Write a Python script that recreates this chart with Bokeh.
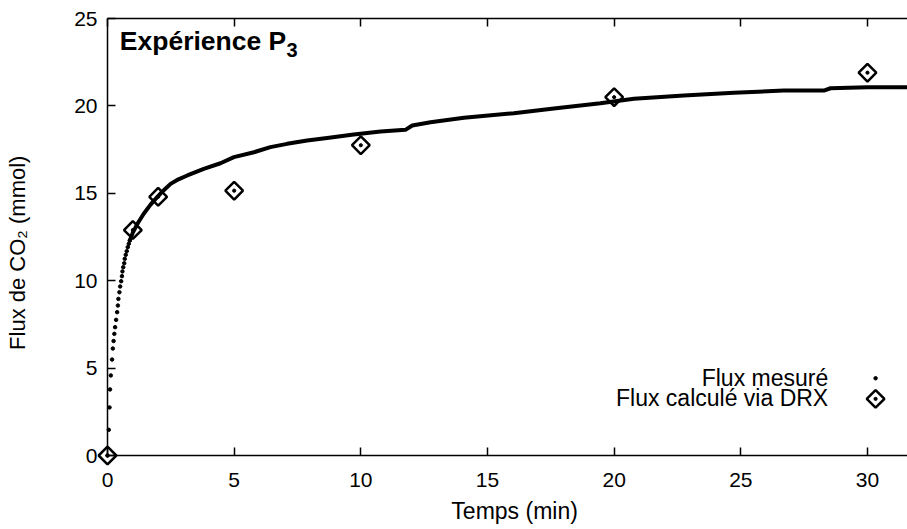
import math
from bokeh.plotting import figure
from bokeh.models import LinearAxis, Label, FixedTicker, Range1d
from bokeh.embed import file_html
from bokeh.resources import INLINE

# ---- data ----
# early measured points (individually visible dots)
early_t = [0.0, 0.05, 0.08, 0.10, 0.13, 0.18, 0.21, 0.24, 0.27, 0.30, 0.34, 0.38,
           0.41, 0.43, 0.47, 0.50, 0.54, 0.57, 0.59, 0.62, 0.66, 0.68, 0.72, 0.76,
           0.80, 0.84, 0.88]
early_flux = [0.0, 1.47, 2.75, 3.78, 4.58, 5.49, 6.12, 6.55, 6.96, 7.34, 7.76, 8.20,
              8.58, 8.96, 9.34, 9.67, 9.97, 10.26, 10.53, 10.77, 11.00, 11.25, 11.48, 11.69,
              11.92, 12.11, 12.30]
# dense measured points (appear as a continuous thick curve)
curve_t = [0.88, 1.0, 1.2, 1.43, 1.7, 1.96, 2.2, 2.49, 2.8, 3.15, 3.8, 4.46, 4.99,
           5.78, 6.43, 7.09, 7.88, 8.67, 9.72, 10.78, 11.76, 12.03, 12.75, 14.07,
           16.04, 17.62, 19.46, 20.78, 22.75, 24.73, 26.70, 28.28, 28.54, 29.99, 31.57]
curve_flux = [12.30, 12.75, 13.3, 13.83, 14.35, 14.78, 15.15, 15.54, 15.8, 16.02, 16.40,
              16.72, 17.07, 17.35, 17.64, 17.83, 18.02, 18.17, 18.36, 18.53, 18.63, 18.88,
              19.07, 19.32, 19.58, 19.85, 20.15, 20.41, 20.59, 20.75, 20.88, 20.88, 21.01,
              21.07, 21.07]
# flux computed from XRD
drx_t = [0, 1, 2, 5, 10, 20, 30]
drx_flux = [0.0, 12.9, 14.8, 15.15, 17.75, 20.5, 21.9]

x_ticks = [0, 5, 10, 15, 20, 25, 30]
y_ticks = [0, 5, 10, 15, 20, 25]
X_MIN, X_MAX = 0, 31.58
Y_MIN, Y_MAX = 0, 25

FONT = "Liberation Sans"
BLACK = "#000000"

# the frame covers the whole canvas; axes are pinned at the data edges
p = figure(width=907, height=529, x_range=Range1d(-4.224, 31.58), y_range=Range1d(-4.233, 26.03),
           output_backend="svg", toolbar_location=None,
           min_border_left=0, min_border_right=0, min_border_top=0, min_border_bottom=0)
p.outline_line_color = None
p.xgrid.visible = False
p.ygrid.visible = False
p.background_fill_color = "white"
p.border_fill_color = "white"

xa, ya = p.xaxis[0], p.yaxis[0]
xa.fixed_location = Y_MIN
xa.bounds = (X_MIN, X_MAX)
ya.fixed_location = X_MIN
ya.bounds = (Y_MIN, Y_MAX)
for ax in (xa, ya):
    ax.axis_line_width = 1.5
    ax.axis_line_color = BLACK
    ax.major_tick_in = 8
    ax.major_tick_out = 0
    ax.major_tick_line_width = 1.5
    ax.minor_tick_line_color = None
    ax.major_label_text_font = FONT
    ax.major_label_text_font_size = "21px"
    ax.major_label_text_color = BLACK
xa.ticker = FixedTicker(ticks=x_ticks)
ya.ticker = FixedTicker(ticks=y_ticks)
xa.major_label_standoff = 17
ya.major_label_standoff = 10

# top border with mirrored ticks (no labels)
top = LinearAxis(ticker=FixedTicker(ticks=[], minor_ticks=x_ticks), fixed_location=Y_MAX,
                 bounds=(X_MIN, X_MAX))
top.axis_line_width = 1.5
top.axis_line_color = BLACK
top.minor_tick_in = 8
top.minor_tick_out = 0
top.minor_tick_line_width = 1.5
top.minor_tick_line_color = BLACK
top.major_tick_line_color = None
p.add_layout(top, "above")

# measured flux
p.line(curve_t, curve_flux, line_width=4, line_color=BLACK, line_join="round", line_cap="round")
p.scatter(early_t, early_flux, marker="circle", size=3.5, color=BLACK)

# XRD flux: open diamonds with central dot
p.scatter(drx_t, drx_flux, marker="square", angle=math.pi / 4, size=12.5,
          fill_color=None, line_color=BLACK, line_width=2.5)
p.scatter(drx_t, drx_flux, marker="circle", size=3.2, color=BLACK)

# legend (text right-aligned, symbol on the right)
leg_text_x = 28.45
leg_sym_x = 30.32
leg_y1, leg_y2 = 4.45, 3.27
p.add_layout(Label(x=leg_text_x, y=leg_y1, text="Flux mesuré", text_align="right",
                   text_baseline="middle", text_font=FONT, text_font_size="23px", text_color=BLACK))
p.add_layout(Label(x=leg_text_x, y=leg_y2, text="Flux calculé via DRX", text_align="right",
                   text_baseline="middle", text_font=FONT, text_font_size="23px", text_color=BLACK))
p.scatter([leg_sym_x], [4.42], marker="circle", size=3.5, color=BLACK)
p.scatter([leg_sym_x], [3.24], marker="square", angle=math.pi / 4, size=12.5,
          fill_color=None, line_color=BLACK, line_width=2.5)
p.scatter([leg_sym_x], [3.24], marker="circle", size=3.2, color=BLACK)

# title inside plot
p.add_layout(Label(x=0.486, y=23.71, text="Expérience P", text_align="left",
                   text_baseline="middle", text_font=FONT, text_font_size="26.5px",
                   text_font_style="bold", text_color=BLACK))
p.add_layout(Label(x=7.07, y=23.18, text="3", text_align="left",
                   text_baseline="middle", text_font=FONT, text_font_size="20px",
                   text_font_style="bold", text_color=BLACK))

# axis titles
p.add_layout(Label(x=16.07, y=-3.175, text="Temps (min)", text_align="center",
                   text_baseline="middle", text_font=FONT, text_font_size="23px",
                   text_color=BLACK))
p.add_layout(Label(x=-3.545, y=11.6, text="Flux de CO₂ (mmol)", angle=math.pi / 2,
                   text_align="center", text_baseline="middle", text_font=FONT,
                   text_font_size="22px", text_color=BLACK))

open("out.html", "w").write(file_html(p, INLINE))
